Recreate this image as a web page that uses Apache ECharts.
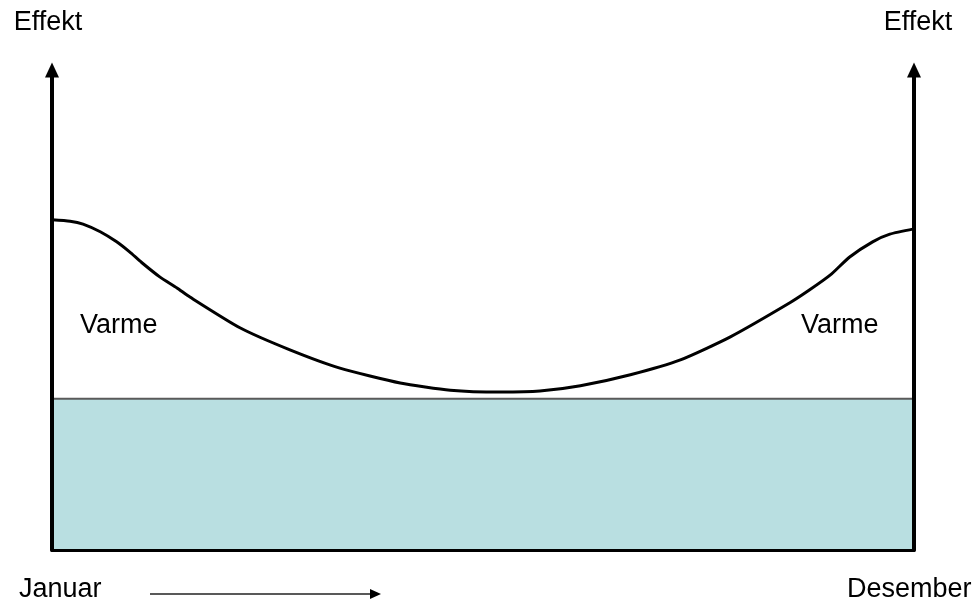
<!DOCTYPE html>
<html>
<head>
<meta charset="utf-8">
<script src="https://cdn.jsdelivr.net/npm/echarts@6/dist/echarts.min.js"></script>
<style>
  html, body { margin: 0; padding: 0; background: #fff; }
  #main { width: 979px; height: 604px; }
</style>
</head>
<body>
<div id="main"></div>
<script>
// andel av året (0 = januar, 100 = desember)
var yearPos = [0, 2.1, 3.6, 5.6, 7.5, 9.0, 10.4, 12.5, 14.5, 16.0, 21.8, 27.6, 33.4, 40.4, 46.2,
  52.0, 56.6, 61.3, 67.1, 72.9, 78.7, 85.6, 87.9, 90.3, 92.5, 95.2, 97.2, 100];
// total effekt (varme + el-spesifikt)
var totalEffekt = [68.8, 68.5, 67.9, 66.3, 64.2, 62.1, 59.9, 56.9, 54.6, 52.7, 46.3, 41.7, 37.9, 34.8, 33.3,
  32.9, 33.1, 34.2, 36.5, 39.6, 44.4, 51.5, 54.2, 57.3, 61.0, 64.2, 65.8, 66.9];
// el-spesifikt forbruk, konstant gjennom året
var elSpesifikt = 31.5;
var yearEnds = [0, 100];

var font = 'Liberation Sans, Arial, sans-serif';
var chart = echarts.init(document.getElementById('main'));

var curve = yearPos.map(function (x, i) { return [x, totalEffekt[i]]; });
var base = yearEnds.map(function (x) { return [x, elSpesifikt]; });

var axisBase = {
  type: 'value',
  min: 0,
  max: 100,
  z: 10,
  axisTick: { show: false },
  axisLabel: { show: false },
  splitLine: { show: false }
};

var arrowLine = {
  show: true,
  onZero: false,
  symbol: ['none', 'triangle'],
  symbolSize: [14, 15],
  lineStyle: { color: '#000', width: 4 }
};

var option = {
  animation: false,
  backgroundColor: '#ffffff',
  grid: { left: 52, right: 65, top: 70, bottom: 54 },
  xAxis: Object.assign({}, axisBase, {
    axisLine: { show: true, lineStyle: { color: '#000', width: 3 } }
  }),
  yAxis: [
    Object.assign({}, axisBase, {
      position: 'left',
      name: 'Effekt',
      nameLocation: 'end',
      nameGap: 34,
      nameTextStyle: { color: '#000', fontSize: 27, fontFamily: font, align: 'center', padding: [0, 8, 0, 0] },
      axisLine: arrowLine
    }),
    Object.assign({}, axisBase, {
      position: 'right',
      name: 'Effekt',
      nameLocation: 'end',
      nameGap: 34,
      nameTextStyle: { color: '#000', fontSize: 27, fontFamily: font, align: 'center', padding: [0, 0, 0, 8] },
      axisLine: arrowLine
    })
  ],
  series: [
    {
      type: 'line',
      data: base,
      symbol: 'none',
      lineStyle: { color: '#5a5a5a', width: 2 },
      areaStyle: { color: '#b9dfe1', opacity: 1 },
      z: 1
    },
    {
      type: 'line',
      data: curve,
      symbol: 'none',
      smooth: 0.2,
      lineStyle: { color: '#000', width: 3 },
      z: 3
    }
  ],
  graphic: [
    { type: 'text', left: 80, top: 312, style: { text: 'Varme', fill: '#000', font: '27px ' + font } },
    { type: 'text', left: 801, top: 312, style: { text: 'Varme', fill: '#000', font: '27px ' + font } },
    { type: 'text', left: 367, top: 462, style: { text: 'El-spesifikt forbruk', fill: '#000', font: '27px ' + font } },
    { type: 'text', left: 19, top: 576, style: { text: 'Januar', fill: '#000', font: '27px ' + font } },
    { type: 'text', left: 847, top: 576, style: { text: 'Desember', fill: '#000', font: '27px ' + font } },
    {
      type: 'line', shape: { x1: 150, y1: 594, x2: 372, y2: 594 },
      style: { stroke: '#222', lineWidth: 1.5 }
    },
    {
      type: 'polygon', shape: { points: [[370, 589], [381, 594], [370, 599]] },
      style: { fill: '#000' }
    }
  ]
};

chart.setOption(option);
</script>
</body>
</html>
